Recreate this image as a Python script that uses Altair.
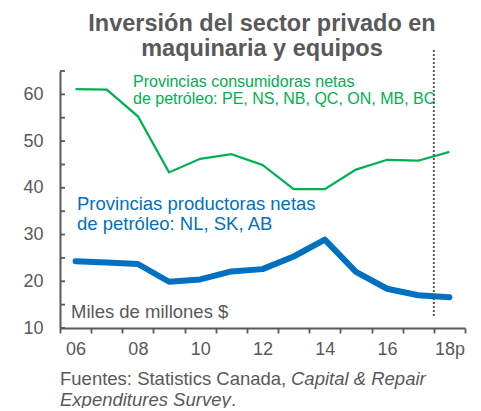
import altair as alt
import pandas as pd

years = list(range(2006, 2019))
consumidoras = [61.1, 61.0, 55.3, 43.3, 46.2, 47.2, 44.9, 39.7, 39.7, 43.9, 46.0, 45.8, 47.7]
productoras = [24.3, 24.0, 23.7, 19.9, 20.4, 22.1, 22.6, 25.3, 28.9, 22.0, 18.4, 17.0, 16.6]
y_tick_values = [10, 15, 20, 25, 30, 35, 40, 45, 50, 55, 60, 65]
y_label_values = [10, 20, 30, 40, 50, 60]
x_tick_values = [2005.5 + i for i in range(14)]
projection_start = [2017.5]

GREY = "#595959"
GREEN = "#00B050"
BLUE = "#0070C0"
FONT = "Liberation Sans"

df_c = pd.DataFrame({"year": years, "value": consumidoras})
df_p = pd.DataFrame({"year": years, "value": productoras})

xscale = alt.Scale(domain=[2005.5, 2018.5], nice=False, zero=False)
yscale = alt.Scale(domain=[10, 65], nice=False, zero=False)

# ticks sit on year boundaries; labels shifted half a year to sit under each year
x_axis = alt.Axis(
    title=None,
    values=x_tick_values,
    labelExpr=(
        "(datum.value + 0.5) % 2 == 0 ? "
        "((datum.value + 0.5) == 2018 ? '18p' : "
        "((datum.value + 0.5) < 2010 ? '0' + (datum.value - 1999.5) : '' + (datum.value - 1999.5))) : ''"
    ),
    labelOffset=15.58,
    ticks=True,
    tickSize=5,
    tickWidth=1.8,
    tickColor=GREY,
    domain=True,
    domainColor=GREY,
    domainWidth=2,
    labelFontSize=18,
    labelFont=FONT,
    labelColor=GREY,
    labelPadding=7,
    labelOverlap=False,
    labelFlush=False,
    grid=False,
)
y_axis = alt.Axis(
    title=None,
    values=y_label_values,
    ticks=False,
    tickSize=0,
    domainColor=GREY,
    domainWidth=2,
    labelFontSize=18,
    labelFont=FONT,
    labelColor=GREY,
    labelPadding=17,
    grid=False,
)

line_c = alt.Chart(df_c).mark_line(color=GREEN, strokeWidth=2.2).encode(
    x=alt.X("year:Q", scale=xscale, axis=x_axis),
    y=alt.Y("value:Q", scale=yscale, axis=y_axis),
)
line_p = alt.Chart(df_p).mark_line(color=BLUE, strokeWidth=6, strokeJoin="round", strokeCap="round").encode(
    x=alt.X("year:Q", scale=xscale, axis=x_axis),
    y=alt.Y("value:Q", scale=yscale, axis=y_axis),
)

# inward ticks on the y axis
yticks = alt.Chart(pd.DataFrame({"yt": y_tick_values})).mark_tick(
    color=GREY, orient="horizontal", size=5, thickness=1.8, opacity=1
).encode(
    y=alt.Y("yt:Q", scale=yscale, axis=y_axis),
    x=alt.value(2.5),
)

vline = alt.Chart(pd.DataFrame({"x": projection_start})).mark_rule(
    color=GREY, strokeWidth=2, strokeDash=[2, 2]
).encode(
    x=alt.X("x:Q", scale=xscale, axis=x_axis),
    y=alt.value(-21),
    y2=alt.value(246),
)


def text_layer(txt, x, y, size, color, align="left", weight="normal", style="normal", line_height=None):
    kw = dict(
        align=align, baseline="alphabetic", fontSize=size, font=FONT, color=color,
        fontWeight=weight, fontStyle=style, lineBreak="\n",
    )
    if line_height is not None:
        kw["lineHeight"] = line_height
    return alt.Chart(pd.DataFrame({"t": [txt]})).mark_text(**kw).encode(
        x=alt.value(x), y=alt.value(y), text="t:N"
    )


title = text_layer("Inversión del sector privado en\nmaquinaria y equipos", 202, -40, 23.5, GREY,
                   align="center", weight="bold", line_height=25)
green_txt = text_layer("Provincias consumidoras netas\nde petróleo: PE, NS, NB, QC, ON, MB, BC", 73, 16.3, 16,
                       GREEN, line_height=17)
blue_txt = text_layer("Provincias productoras netas\nde petróleo: NL, SK, AB", 17, 138.5, 18.5, BLUE,
                      line_height=20)
unit_txt = text_layer("Miles de millones $", 11, 247, 18.5, GREY)
src1a = text_layer("Fuentes: Statistics Canada, ", 0, 313.5, 18.5, GREY)
src1b = text_layer("Capital & Repair", 231, 313.5, 18.5, GREY, style="italic")
src2a = text_layer("Expenditures Survey", 0, 334.5, 18.5, GREY, style="italic")
src2b = text_layer(".", 171, 334.5, 18.5, GREY)

chart = alt.layer(
    line_c, line_p, yticks, vline, title, green_txt, blue_txt, unit_txt,
    src1a, src1b, src2a, src2b
).properties(
    width=405,
    height=257,
    autosize="none",
    padding={"left": 52, "top": 63, "right": 8, "bottom": 80},
).configure_view(stroke=None)

chart.save("out.html", embed_options={"renderer": "svg", "actions": False})
